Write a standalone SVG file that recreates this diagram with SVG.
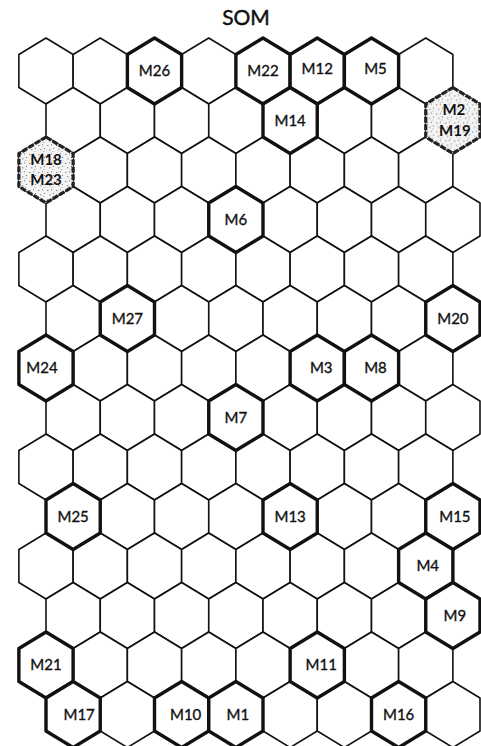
<svg xmlns="http://www.w3.org/2000/svg" xmlns:xlink="http://www.w3.org/1999/xlink" width="481" height="746" viewBox="0 0 481 746">
<defs>
<path id="h" d="M0,-33 L27.125,-16.5 L27.125,16.5 L0,33 L-27.125,16.5 L-27.125,-16.5 Z"/>
<pattern id="speck" width="9" height="9" patternUnits="userSpaceOnUse">
<rect width="9" height="9" fill="#f4f4f4"/>
<rect x="1" y="2" width="1.5" height="1" fill="#888"/>
<rect x="5" y="1" width="1" height="1.5" fill="#999"/>
<rect x="3" y="6" width="1.5" height="1.5" fill="#aaa"/>
<rect x="7" y="5" width="1" height="1" fill="#777"/>
<rect x="6" y="8" width="1.5" height="1" fill="#bbb"/>
</pattern>
<style>
.cell{fill:#fff;stroke:#111;stroke-width:1.6;stroke-linejoin:round}
.bold{fill:#fff;stroke:#111;stroke-width:3.4;stroke-linejoin:round}
.spk{fill:url(#speck);stroke:#222;stroke-width:3.2;stroke-dasharray:6 1.5;stroke-linejoin:round}
.lbl{font-family:Lato,"Liberation Sans",sans-serif;font-size:15px;fill:#111;stroke:#111;stroke-width:0.35;text-anchor:middle}
.lblb{font-family:Lato,"Liberation Sans",sans-serif;font-size:15px;font-weight:bold;fill:#111;text-anchor:middle}
.title{font-family:Lato,"Liberation Sans",sans-serif;font-size:21px;fill:#111;stroke:#111;stroke-width:0.45;text-anchor:middle}
</style>
</defs>
<rect width="481" height="746" fill="#fff"/>
<text class="title" x="246" y="25">SOM</text>
<g id="grid">
<g transform="translate(0,71)"><use href="#h" class="cell" x="46"/><use href="#h" class="cell" x="100.25"/><use href="#h" class="cell" x="154.5"/><use href="#h" class="cell" x="208.75"/><use href="#h" class="cell" x="263"/><use href="#h" class="cell" x="317.25"/><use href="#h" class="cell" x="371.5"/><use href="#h" class="cell" x="425.75"/></g>
<g transform="translate(0,120.5)"><use href="#h" class="cell" x="73.125"/><use href="#h" class="cell" x="127.375"/><use href="#h" class="cell" x="181.625"/><use href="#h" class="cell" x="235.875"/><use href="#h" class="cell" x="290.125"/><use href="#h" class="cell" x="344.375"/><use href="#h" class="cell" x="398.625"/><use href="#h" class="cell" x="452.875"/></g>
<g transform="translate(0,170)"><use href="#h" class="cell" x="46"/><use href="#h" class="cell" x="100.25"/><use href="#h" class="cell" x="154.5"/><use href="#h" class="cell" x="208.75"/><use href="#h" class="cell" x="263"/><use href="#h" class="cell" x="317.25"/><use href="#h" class="cell" x="371.5"/><use href="#h" class="cell" x="425.75"/></g>
<g transform="translate(0,219.5)"><use href="#h" class="cell" x="73.125"/><use href="#h" class="cell" x="127.375"/><use href="#h" class="cell" x="181.625"/><use href="#h" class="cell" x="235.875"/><use href="#h" class="cell" x="290.125"/><use href="#h" class="cell" x="344.375"/><use href="#h" class="cell" x="398.625"/><use href="#h" class="cell" x="452.875"/></g>
<g transform="translate(0,269)"><use href="#h" class="cell" x="46"/><use href="#h" class="cell" x="100.25"/><use href="#h" class="cell" x="154.5"/><use href="#h" class="cell" x="208.75"/><use href="#h" class="cell" x="263"/><use href="#h" class="cell" x="317.25"/><use href="#h" class="cell" x="371.5"/><use href="#h" class="cell" x="425.75"/></g>
<g transform="translate(0,318.5)"><use href="#h" class="cell" x="73.125"/><use href="#h" class="cell" x="127.375"/><use href="#h" class="cell" x="181.625"/><use href="#h" class="cell" x="235.875"/><use href="#h" class="cell" x="290.125"/><use href="#h" class="cell" x="344.375"/><use href="#h" class="cell" x="398.625"/><use href="#h" class="cell" x="452.875"/></g>
<g transform="translate(0,368)"><use href="#h" class="cell" x="46"/><use href="#h" class="cell" x="100.25"/><use href="#h" class="cell" x="154.5"/><use href="#h" class="cell" x="208.75"/><use href="#h" class="cell" x="263"/><use href="#h" class="cell" x="317.25"/><use href="#h" class="cell" x="371.5"/><use href="#h" class="cell" x="425.75"/></g>
<g transform="translate(0,417.5)"><use href="#h" class="cell" x="73.125"/><use href="#h" class="cell" x="127.375"/><use href="#h" class="cell" x="181.625"/><use href="#h" class="cell" x="235.875"/><use href="#h" class="cell" x="290.125"/><use href="#h" class="cell" x="344.375"/><use href="#h" class="cell" x="398.625"/><use href="#h" class="cell" x="452.875"/></g>
<g transform="translate(0,467)"><use href="#h" class="cell" x="46"/><use href="#h" class="cell" x="100.25"/><use href="#h" class="cell" x="154.5"/><use href="#h" class="cell" x="208.75"/><use href="#h" class="cell" x="263"/><use href="#h" class="cell" x="317.25"/><use href="#h" class="cell" x="371.5"/><use href="#h" class="cell" x="425.75"/></g>
<g transform="translate(0,516.5)"><use href="#h" class="cell" x="73.125"/><use href="#h" class="cell" x="127.375"/><use href="#h" class="cell" x="181.625"/><use href="#h" class="cell" x="235.875"/><use href="#h" class="cell" x="290.125"/><use href="#h" class="cell" x="344.375"/><use href="#h" class="cell" x="398.625"/><use href="#h" class="cell" x="452.875"/></g>
<g transform="translate(0,566)"><use href="#h" class="cell" x="46"/><use href="#h" class="cell" x="100.25"/><use href="#h" class="cell" x="154.5"/><use href="#h" class="cell" x="208.75"/><use href="#h" class="cell" x="263"/><use href="#h" class="cell" x="317.25"/><use href="#h" class="cell" x="371.5"/><use href="#h" class="cell" x="425.75"/></g>
<g transform="translate(0,615.5)"><use href="#h" class="cell" x="73.125"/><use href="#h" class="cell" x="127.375"/><use href="#h" class="cell" x="181.625"/><use href="#h" class="cell" x="235.875"/><use href="#h" class="cell" x="290.125"/><use href="#h" class="cell" x="344.375"/><use href="#h" class="cell" x="398.625"/><use href="#h" class="cell" x="452.875"/></g>
<g transform="translate(0,665)"><use href="#h" class="cell" x="46"/><use href="#h" class="cell" x="100.25"/><use href="#h" class="cell" x="154.5"/><use href="#h" class="cell" x="208.75"/><use href="#h" class="cell" x="263"/><use href="#h" class="cell" x="317.25"/><use href="#h" class="cell" x="371.5"/><use href="#h" class="cell" x="425.75"/></g>
<g transform="translate(0,714.5)"><use href="#h" class="cell" x="73.125"/><use href="#h" class="cell" x="127.375"/><use href="#h" class="cell" x="181.625"/><use href="#h" class="cell" x="235.875"/><use href="#h" class="cell" x="290.125"/><use href="#h" class="cell" x="344.375"/><use href="#h" class="cell" x="398.625"/><use href="#h" class="cell" x="452.875"/></g>
</g>
<g id="connectors"></g>
<g id="M26" transform="translate(154.5,71)"><use href="#h" class="bold"/><text class="lbl" y="5">M26</text></g>
<g id="M22" transform="translate(263,71)"><use href="#h" class="bold"/><text class="lbl" y="5">M22</text></g>
<g id="M12" transform="translate(317.25,71)"><use href="#h" class="bold"/><text class="lbl" y="3">M12</text></g>
<g id="M5" transform="translate(371.5,71)"><use href="#h" class="bold"/><text class="lbl" x="4" y="3">M5</text></g>
<g id="M14" transform="translate(290.125,120.5)"><use href="#h" class="bold"/><text class="lbl" y="5">M14</text></g>
<g id="M2_M19" transform="translate(452.875,120.5)"><use href="#h" class="spk"/><text class="lblb" x="1" y="-6">M2</text><text class="lblb" x="2" y="15">M19</text></g>
<g id="M18_M23" transform="translate(46,170)"><use href="#h" class="spk"/><text class="lblb" y="-5">M18</text><text class="lblb" y="15">M23</text></g>
<g id="M6" transform="translate(235.875,219.5)"><use href="#h" class="bold"/><text class="lbl" y="5">M6</text></g>
<g id="M27" transform="translate(127.375,318.5)"><use href="#h" class="bold"/><text class="lbl" y="5">M27</text></g>
<g id="M20" transform="translate(452.875,318.5)"><use href="#h" class="bold"/><text class="lbl" y="5">M20</text></g>
<g id="M24" transform="translate(46,368)"><use href="#h" class="bold"/><text class="lbl" x="-4" y="5">M24</text></g>
<g id="M3" transform="translate(317.25,368)"><use href="#h" class="bold"/><text class="lbl" x="4" y="5">M3</text></g>
<g id="M8" transform="translate(371.5,368)"><use href="#h" class="bold"/><text class="lbl" x="4" y="5">M8</text></g>
<g id="M7" transform="translate(235.875,417.5)"><use href="#h" class="bold"/><text class="lbl" y="5">M7</text></g>
<g id="M25" transform="translate(73.125,516.5)"><use href="#h" class="bold"/><text class="lbl" y="5">M25</text></g>
<g id="M13" transform="translate(290.125,516.5)"><use href="#h" class="bold"/><text class="lbl" y="5">M13</text></g>
<g id="M15" transform="translate(452.875,516.5)"><use href="#h" class="bold"/><text class="lbl" x="2" y="5">M15</text></g>
<g id="M4" transform="translate(425.75,566)"><use href="#h" class="bold"/><text class="lbl" x="2" y="5">M4</text></g>
<g id="M9" transform="translate(452.875,615.5)"><use href="#h" class="bold"/><text class="lbl" x="2" y="5">M9</text></g>
<g id="M21" transform="translate(46,665)"><use href="#h" class="bold"/><text class="lbl" y="5">M21</text></g>
<g id="M11" transform="translate(317.25,665)"><use href="#h" class="bold"/><text class="lbl" x="4" y="5">M11</text></g>
<g id="M17" transform="translate(73.125,714.5)"><use href="#h" class="bold"/><text class="lbl" x="6" y="5">M17</text></g>
<g id="M10" transform="translate(181.625,714.5)"><use href="#h" class="bold"/><text class="lbl" x="4" y="5">M10</text></g>
<g id="M1" transform="translate(235.875,714.5)"><use href="#h" class="bold"/><text class="lbl" x="2" y="5">M1</text></g>
<g id="M16" transform="translate(398.625,714.5)"><use href="#h" class="bold"/><text class="lbl" y="5">M16</text></g>
</svg>
